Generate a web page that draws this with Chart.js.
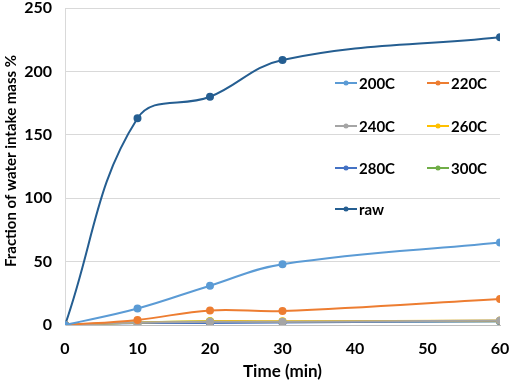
<!DOCTYPE html>
<html><head><meta charset="utf-8">
<script src="https://cdn.jsdelivr.net/npm/chart.js@4"></script>
<style>html,body{margin:0;padding:0;background:#fff}#wrap{width:512px;height:382px}</style>
</head><body><div id="wrap"><canvas id="c" width="512" height="382"></canvas></div>
<script>
const times = [0, 10, 20, 30, 60];
const labels = ['200C','220C','240C','260C','280C','300C','raw'];
const s200 = [0, 13, 31, 48, 65];
const s220 = [0, 4, 11.5, 11, 20.5];
const s240 = [0, 2, 2.5, 2.5, 3.5];
const s260 = [0, 2, 3, 3, 3.5];
const s280 = [0, 1.5, 1.5, 2, 3];
const s300 = [0, 2, 3, 2.5, 3];
const raw = [0, 163, 180, 209, 227];
const yTicks = [0, 50, 100, 150, 200, 250];
const xTicks = [0, 10, 20, 30, 40, 50, 60];
const xTitle = 'Time (min)';
const yTitle = 'Fraction of water intake mass %';
const colors = ['#5B9BD5','#ED7D31','#A5A5A5','#FFC000','#4472C4','#70AD47','#255E91'];
const series = [s200, s220, s240, s260, s280, s300, raw];

const datasets = series.map((s, i) => ({
  label: labels[i],
  data: s.map((v, j) => ({x: times[j], y: v})),
  borderColor: colors[i],
  backgroundColor: colors[i],
  borderWidth: 2,
  pointRadius: 3,
  pointHoverRadius: 3,
  tension: 0.4,
  fill: false
}));
const FONT = 'Lato, "Open Sans", sans-serif';

const extrasPlugin = {
  id: 'extras',
  afterDraw(chart) {
    const ctx = chart.ctx;
    ctx.save();
    ctx.translate(11, 161);
    ctx.rotate(-Math.PI / 2);
    ctx.fillStyle = '#000';
    ctx.font = 'bold 15px ' + FONT;
    ctx.textAlign = 'center'; ctx.textBaseline = 'middle';
    ctx.fillText(yTitle, 0, 0);
    ctx.restore();
    ctx.save();
    const cols = [335, 427];
    const rows = [83, 126, 168, 209];
    chart.data.datasets.forEach((ds, i) => {
      const x = cols[i % 2], y = rows[Math.floor(i / 2)];
      ctx.strokeStyle = ds.borderColor; ctx.lineWidth = 2;
      ctx.beginPath(); ctx.moveTo(x, y); ctx.lineTo(x + 22, y); ctx.stroke();
      ctx.fillStyle = ds.borderColor;
      ctx.beginPath(); ctx.arc(x + 11, y, 2.5, 0, Math.PI * 2); ctx.fill();
      ctx.fillStyle = '#000';
      ctx.font = 'bold 15px ' + FONT;
      ctx.textBaseline = 'middle'; ctx.textAlign = 'left';
      ctx.fillText(ds.label, x + 24, y + 1);
    });
    ctx.restore();
  }
};

new Chart(document.getElementById('c'), {
  type: 'line',
  data: { datasets },
  options: {
    responsive: false,
    animation: false,
    devicePixelRatio: 1,
    layout: { padding: { top: 8, right: 12, left: 0, bottom: 0 } },
    plugins: { legend: { display: false }, tooltip: { enabled: false } },
    scales: {
      x: {
        type: 'linear', min: 0, max: 60,
        afterBuildTicks(ax) { ax.ticks = xTicks.map(v => ({value: v})); },
        afterFit(ax) { ax.height = 57; ax.paddingLeft = 0; ax.paddingRight = 0; },
        grid: { display: false, drawTicks: false },
        border: { display: true, color: '#BFBFBF' },
        ticks: { color: '#000', font: { family: FONT, size: 16, weight: 'bold' }, padding: 14 },
        title: { display: true, text: xTitle, color: '#000', font: { family: FONT, size: 17, weight: 'bold' }, padding: { top: 4, bottom: 0 } }
      },
      y: {
        min: 0, max: 250,
        afterBuildTicks(ax) { ax.ticks = yTicks.map(v => ({value: v})); },
        afterFit(ax) { ax.width = 65; ax.paddingTop = 0; ax.paddingBottom = 0; },
        grid: { color: '#D9D9D9', drawTicks: false },
        border: { display: true, color: '#D9D9D9' },
        ticks: { color: '#000', font: { family: FONT, size: 16, weight: 'bold' }, padding: 13 },
        title: { display: false }
      }
    }
  },
  plugins: [extrasPlugin]
});
</script>
</body></html>
